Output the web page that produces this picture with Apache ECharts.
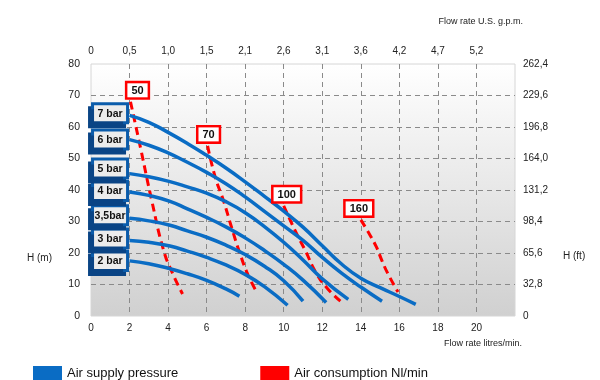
<!DOCTYPE html>
<html>
<head>
<meta charset="utf-8">
<script src="https://cdn.jsdelivr.net/npm/echarts@6/dist/echarts.min.js"></script>
<style>html,body{margin:0;padding:0;background:#fff}#c{width:600px;height:380px}</style>
</head>
<body>
<div id="c"></div>
<script>
// ---- data ----
const bottomTicks = [0, 2, 4, 6, 8, 10, 12, 14, 16, 18, 20];
const topTickLabels = ['0', '0,5', '1,0', '1,5', '2,1', '2,6', '3,1', '3,6', '4,2', '4,7', '5,2'];
const leftTicks = [0, 10, 20, 30, 40, 50, 60, 70, 80];
const rightTickLabels = ['0', '32,8', '65,6', '98,4', '131,2', '164,0', '196,8', '229,6', '262,4'];

const pressureNames = ['2 bar', '3 bar', '3,5bar', '4 bar', '5 bar', '6 bar', '7 bar'];
const bar2 = [[2.0,17.5],[3,16.6],[4.1,15.0],[5,13.4],[6.0,11.3],[7,8.6],[7.7,6.3]];
const bar3 = [[2.0,24.0],[3,23.4],[4.1,22.2],[5,20.6],[6,18.6],[7,16.2],[8,13.2],[9,9.3],[10.2,3.4]];
const bar35 = [[2.0,31.0],[3,30.2],[4.1,28.8],[5,27.0],[6,25.0],[7,22.5],[8,19.5],[9,15.8],[10,11.2],[11.0,4.7]];
const bar4 = [[2.0,39.4],[3,38.3],[4.1,36.4],[5,34.0],[6,31.3],[7,28.3],[8,24.8],[9,20.8],[10,16.4],[11,11.4],[12.2,4.3]];
const bar5 = [[2.0,45.2],[3,44.2],[4,42.8],[5,41.0],[6,39.0],[7,36.3],[8,32.8],[9,28.4],[10,23.4],[11,17.8],[12,11.8],[13.35,5.3]];
const bar6 = [[2.0,56.0],[3,54.2],[4,51.8],[5,48.8],[6,45.6],[7,42.0],[8,37.8],[9,33.2],[10,28.6],[11,24.0],[12,18.6],[13,13.6],[14,9.2],[15.1,4.7]];
const bar7 = [[2.0,63.7],[3,61.5],[4,58.3],[5,54.8],[6,51.0],[7,47.0],[8,42.6],[9,38.0],[10,33.3],[11,28.2],[12,22.3],[13,16.5],[14,12.0],[15,9.0],[16,6.2],[16.85,3.7]];
const pressureData = [bar2, bar3, bar35, bar4, bar5, bar6, bar7];

const consumptionNames = ['50', '70', '100', '160'];
const air50 = [[2.05,68],[2.6,52.5],[3.15,36.7],[3.76,21],[4.2,14],[4.75,7]];
const air70 = [[6.05,54],[6.45,44],[6.87,36.7],[7.3,28],[7.73,19.8],[8.15,13],[8.6,7.6]];
const air100 = [[10.0,35],[10.6,27],[11.1,21],[11.7,13.5],[12.3,8.5],[13.0,4.4]];
const air160 = [[14.0,30.5],[14.4,26.5],[14.8,22],[15.1,17.5],[15.4,13.5],[15.93,7.6]];
const consumptionData = [air50, air70, air100, air160];

const legendNames = ['Air supply pressure', 'Air consumption Nl/min'];

// ---- styles ----
const BLUE = '#0a6cc4';
const RED = '#ff0000';
const FONT = 'Liberation Sans, Arial, sans-serif';
const redLabelOffsets = [[7, 0], [1, 0], [3, 0], [-2, 0]];
const blueLabelOffsets = [[0, 0], [0, -2], [0, -3], [0, -1], [0, -5], [0, 0], [0, -2]];

const series = [];
consumptionData.forEach((d, i) => {
  series.push({
    name: legendNames[1], type: 'line', data: d, smooth: true, symbol: 'none',
    color: RED,
    lineStyle: { color: RED, width: 3, type: [8, 5] },
    z: 2,
    markPoint: {
      symbol: 'rect', symbolSize: 1, itemStyle: { color: 'rgba(0,0,0,0)' },
      label: {
        show: true, position: 'top', distance: 4, offset: redLabelOffsets[i],
        formatter: consumptionNames[i], color: '#111', fontWeight: 'bold', fontSize: 11, fontFamily: FONT,
        backgroundColor: '#fff', borderColor: RED, borderWidth: 2.5, padding: [2, 4, 1, 4]
      },
      data: [{ coord: d[0] }]
    }
  });
});
pressureData.forEach((d, i) => {
  series.push({
    name: legendNames[0], type: 'line', data: d, smooth: true, symbol: 'none',
    color: BLUE,
    lineStyle: { color: BLUE, width: 3.5 },
    z: 3,
    markPoint: {
      symbol: 'rect', symbolSize: 1, itemStyle: { color: 'rgba(0,0,0,0)' },
      label: {
        show: true, position: 'left', distance: 3, offset: blueLabelOffsets[i],
        formatter: '{a|' + pressureNames[i] + '}',
        rich: { a: { width: 30, align: 'center', color: '#111', fontWeight: 'bold', fontSize: 10.5, fontFamily: FONT } },
        backgroundColor: '#ececec', borderColor: '#0b5cab', borderWidth: 3,
        padding: [3, 1, 2, 1],
        shadowColor: '#0a4485', shadowOffsetX: -3, shadowOffsetY: 4, shadowBlur: 0
      },
      data: [{ coord: d[0] }]
    }
  });
});

const splitDash = { show: true, showMinLine: false, showMaxLine: false, lineStyle: { color: '#8a8a8a', width: 1, type: [5, 4] } };

const option = {
  animation: false,
  backgroundColor: '#fff',
  textStyle: { fontFamily: FONT },
  grid: {
    left: 91, right: 85, top: 64, bottom: 64, show: true,
    borderColor: '#d6d6d6', borderWidth: 1,
    backgroundColor: { type: 'linear', x: 0, y: 0, x2: 0, y2: 1,
      colorStops: [{ offset: 0, color: '#ffffff' }, { offset: 1, color: '#d0d0d0' }] }
  },
  legend: {
    data: legendNames, left: 33, top: 366, padding: 0, icon: 'rect', itemWidth: 29, itemHeight: 14, itemGap: 82,
    textStyle: { fontSize: 13, color: '#111', fontFamily: FONT }, selectedMode: false
  },
  xAxis: [
    { type: 'value', position: 'bottom', min: 0, max: 22, interval: 2,
      axisLine: { show: false }, axisTick: { show: false },
      axisLabel: { margin: 7, fontSize: 10, color: '#222',
        formatter: v => bottomTicks.indexOf(v) >= 0 ? String(v) : '' },
      splitLine: splitDash },
    { type: 'value', position: 'top', min: 0, max: 22, interval: 2,
      axisLine: { show: false }, axisTick: { show: false },
      axisLabel: { margin: 8, fontSize: 10, color: '#222',
        formatter: v => { const k = Math.round(v / 2); return k < topTickLabels.length ? topTickLabels[k] : ''; } },
      splitLine: { show: false } }
  ],
  yAxis: [
    { type: 'value', position: 'left', min: 0, max: 80, interval: 10,
      axisLine: { show: false }, axisTick: { show: false },
      axisLabel: { margin: 11, fontSize: 10.5, color: '#222',
        formatter: v => leftTicks.indexOf(v) >= 0 ? String(v) : '' },
      splitLine: splitDash },
    { type: 'value', position: 'right', min: 0, max: 80, interval: 10,
      axisLine: { show: false }, axisTick: { show: false },
      axisLabel: { margin: 8, fontSize: 10, color: '#222',
        formatter: v => { const k = Math.round(v / 10); return rightTickLabels[k] || ''; } },
      splitLine: { show: false } }
  ],
  graphic: [
    { type: 'text', right: 77, top: 17, style: { text: 'Flow rate U.S. g.p.m.', fontSize: 9, fill: '#222', fontFamily: FONT } },
    { type: 'text', right: 78, top: 339, style: { text: 'Flow rate litres/min.', fontSize: 9, fill: '#222', fontFamily: FONT } },
    { type: 'text', left: 27, top: 253, style: { text: 'H (m)', fontSize: 10, fill: '#222', fontFamily: FONT } },
    { type: 'text', left: 563, top: 251, style: { text: 'H (ft)', fontSize: 10, fill: '#222', fontFamily: FONT } }
  ],
  series: series
};

const chart = echarts.init(document.getElementById('c'), null, { renderer: 'canvas' });
chart.setOption(option);
</script>
</body>
</html>
